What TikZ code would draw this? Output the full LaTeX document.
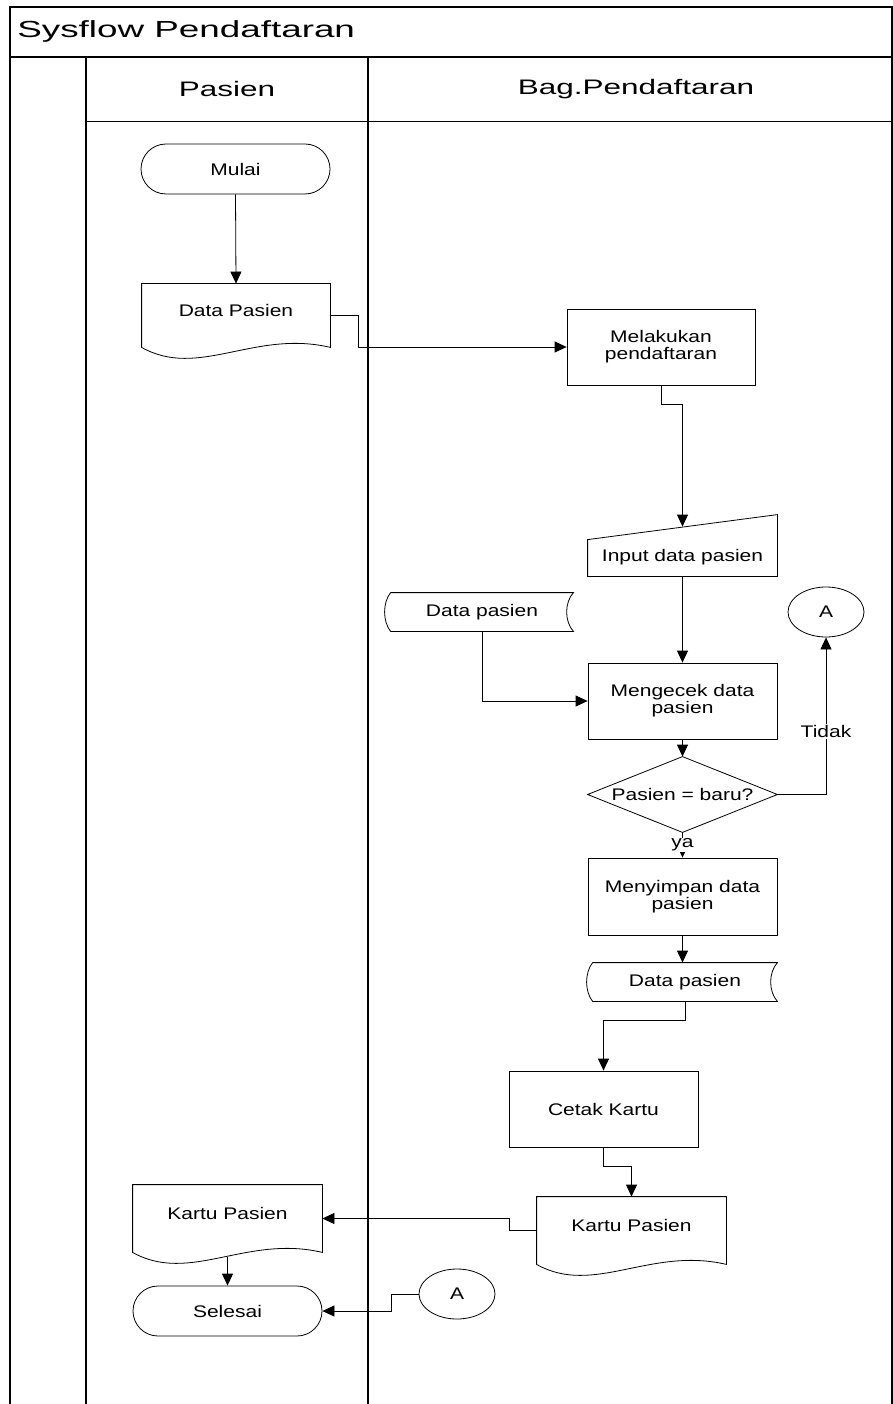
\documentclass[tikz,border=0pt]{standalone}
\usepackage{fontspec}
\usepackage{tikz}
\usetikzlibrary{arrows.meta,shapes.geometric,calc}
\newfontfamily\bodyfont{Liberation Sans}[FakeStretch=1.25]
\newfontfamily\headfont{Liberation Sans}[FakeStretch=1.5]
\newfontfamily\titlefont{Liberation Sans}[FakeStretch=1.58]
\tikzset{every picture/.style={line width=0.75pt}}
\tikzset{
  lane/.style={line width=1.5pt},
  box/.style={draw, line width=0.8pt, minimum width=189pt, minimum height=76pt, inner sep=0pt, align=center, font={\bodyfont\fontsize{16.8pt}{17pt}\selectfont}},
  term/.style={box, rounded corners=25pt, minimum height=50pt},
  shapenode/.style={box, draw=none},
  docnode/.style={shapenode, minimum height=67pt, text depth=10pt},
  conn/.style={ellipse, draw, line width=0.8pt, minimum width=76pt, minimum height=50pt, inner sep=0pt, font={\bodyfont\fontsize{16.8pt}{17pt}\selectfont}},
  flow/.style={line width=0.8pt, -{Triangle[length=12pt,width=11pt]}},
  flowlabel/.style={fill=white, inner sep=1pt, font={\bodyfont\fontsize{16.8pt}{17pt}\selectfont}}
}
% document outline with wavy bottom
\newcommand\drawdoc[1]{%
  \draw[line width=0.8pt] (#1.north west) -- (#1.north east) -- (#1.south east) .. controls +(-76,-18) and +(57,32) .. (#1.south west) -- cycle;
  \coordinate (#1-b) at ($(#1.south)+(0,5)$);}
% stored data outline
\newcommand\drawstore[1]{%
  \draw[line width=0.8pt] (#1.north west) -- (#1.north east) .. controls +(-9,10) and +(-9,-10) .. (#1.south east) -- (#1.south west) .. controls +(-8,-10) and +(-8,10) .. (#1.north west);}

\begin{document}
\begin{tikzpicture}[x=1pt,y=1pt,yscale=-1,xscale=1]
\useasboundingbox (0,0) rectangle (893,1404);

%Swimlanes
\draw [lane] (10,1404) -- (10,7) -- (892,7) -- (892,1404) ;
\draw [lane] (10,57) -- (892,57) ;
\draw [lane] (86,57) -- (86,1404) ;
\draw [lane] (368,57) -- (368,1404) ;
\draw [line width=0.8pt] (86,121) -- (892,121) ;

\node [anchor=west, inner sep=0pt, font={\titlefont\fontsize{23.3pt}{26pt}\selectfont}] (title) at (17,31) {Sysflow Pendaftaran};
\node [font={\headfont\fontsize{21pt}{24pt}\selectfont}] (lanepasien) at (227,89) {Pasien};
\node [font={\headfont\fontsize{21pt}{24pt}\selectfont}] (lanebag) at (636,89) {Bag.Pendaftaran};

%Shapes: lane Pasien
\node [term] (mulai) at (235.5,169) {Mulai};
\node [docnode, minimum width=188pt, minimum height=63pt] (dpas) at (236,315.5) {Data Pasien};
\drawdoc{dpas}
\node [docnode] (kpl) at (227.5,1218.5) {Kartu Pasien};
\drawdoc{kpl}
\node [term] (sls) at (227.5,1311) {Selesai};

%Shapes: lane Bag.Pendaftaran
\node [box, minimum width=188pt] (mlk) at (661,347) {Melakukan\\pendaftaran};
\node [shapenode, minimum height=38pt] (inp) at (682.5,557) {Input data pasien};
\draw [line width=0.8pt] (inp.south west) -- (inp.south east) -- ($(inp.north east)+(0,-23)$) -- ($(inp.north west)+(0,2)$) -- cycle ;
\coordinate (inp-top) at ($(inp.north)+(0,-11)$);
\node [shapenode, minimum width=182pt, minimum height=38pt] (dps) at (482,612) {Data pasien};
\drawstore{dps}
\node [conn] (acon) at (826,612) {A};
\node [box] (mck) at (682.5,701) {Mengecek data\\pasien};
\node [shapenode, minimum height=75pt] (dec) at (682.5,794.5) {Pasien = baru?};
\draw [line width=0.8pt] (dec.north) -- (dec.east) -- (dec.south) -- (dec.west) -- cycle ;
\node [box, minimum height=77pt] (mny) at (682.5,896.5) {Menyimpan data\\pasien};
\node [shapenode, minimum width=184pt, minimum height=38pt] (dps2) at (685,982) {Data pasien};
\drawstore{dps2}
\node [box] (ctk) at (603.5,1109) {Cetak Kartu};
\node [docnode] (kpr) at (631.5,1230.5) {Kartu Pasien};
\drawdoc{kpr}
\node [conn] (acon2) at (457,1294) {A};

%Connectors
\draw [flow] (mulai.south) -- (dpas.north) ;
\draw [flow] (dpas.east) -- ++(28,0) |- (mlk.west) ;
\draw [flow] (mlk.south) -- ++(0,19) -| (inp-top) ;
\draw [flow] (inp.south) -- (mck.north) ;
\draw [flow] (dps.south) |- (mck.west) ;
\draw [flow] (mck.south) -- (dec.north) ;
\draw [flow] (dec.east) -| (acon.south) node [flowlabel, pos=0.7] {Tidak} ;
\draw [flow] (dec.south) -- (mny.north) node [flowlabel, midway] {ya} ;
\draw [flow] (mny.south) -- (mny.south |- dps2.north) ;
\draw [flow] (dps2.south) -- ++(0,19) -| (ctk.north) ;
\draw [flow] (ctk.south) -- ++(0,19) -| (kpr.north) ;
\draw [flow] (kpr.west) -- ++(-27,0) |- (kpl.east) ;
\draw [flow] (kpl-b) -- (sls.north) ;
\draw [flow] (acon2.west) -- ++(-27,0) |- (sls.east) ;

\end{tikzpicture}
\end{document}
